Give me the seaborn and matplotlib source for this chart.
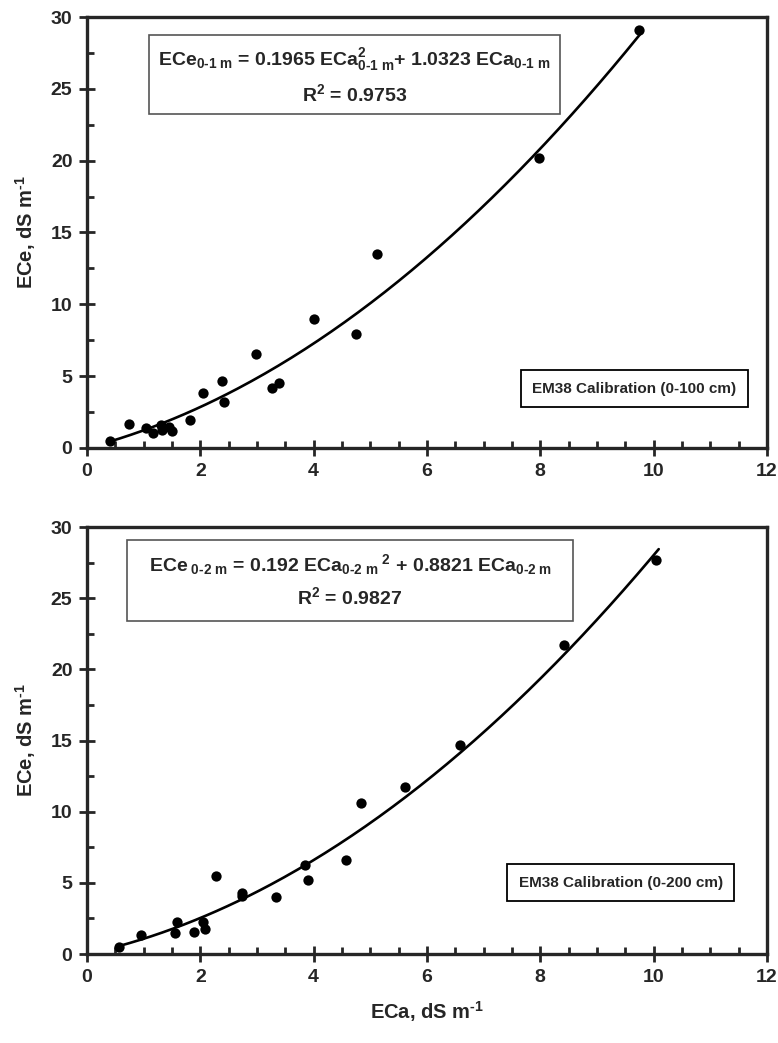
import matplotlib
matplotlib.use('Agg')
import matplotlib.pyplot as plt
from matplotlib.patches import Rectangle
from matplotlib.ticker import MultipleLocator
import seaborn as sns
import numpy as np
import pandas as pd

# EM38 0-100 cm
eca_1m = [0.40, 0.74, 1.04, 1.17, 1.30, 1.33, 1.44, 1.50, 1.81, 2.05,
          2.39, 2.42, 2.98, 3.27, 3.38, 4.00, 4.74, 5.11, 7.97, 9.74]
ece_1m = [0.50, 1.70, 1.37, 1.07, 1.60, 1.25, 1.48, 1.20, 1.95, 3.80,
          4.66, 3.22, 6.54, 4.18, 4.55, 9.00, 7.96, 13.5, 20.2, 29.1]
coef_1m = [0.1965, 1.0323]

# EM38 0-200 cm
eca_2m = [0.56, 0.95, 1.55, 1.58, 1.89, 2.05, 2.08, 2.27, 2.73, 2.74,
          3.33, 3.85, 3.90, 4.57, 4.83, 5.62, 6.59, 8.41, 10.04]
ece_2m = [0.51, 1.34, 1.45, 2.27, 1.52, 2.23, 1.76, 5.46, 4.31, 4.07,
          4.00, 6.25, 5.22, 6.58, 10.6, 11.76, 14.69, 21.7, 27.7]
coef_2m = [0.192, 0.8821]

eq_1m = r'ECe$_{\text{0-1 m}}$ = 0.1965 ECa$^{2}_{\text{0-1 m}}$+ 1.0323 ECa$_{\text{0-1 m}}$'
eq_2m = r'ECe$_{\text{ 0-2 m}}$ = 0.192 ECa$_{\text{0-2 m}}{}^{\,\,2}$ + 0.8821 ECa$_{\text{0-2 m}}$'
r2_1m = r'R$^{2}$ = 0.9753'
r2_2m = r'R$^{2}$ = 0.9827'
cal_1m = 'EM38 Calibration (0-100 cm)'
cal_2m = 'EM38 Calibration (0-200 cm)'

sns.set_style('ticks')
plt.rcParams['font.family'] = ['Liberation Sans', 'DejaVu Sans']
plt.rcParams['font.weight'] = 'bold'
plt.rcParams['mathtext.fontset'] = 'custom'
plt.rcParams['mathtext.rm'] = 'Liberation Sans:bold'
plt.rcParams['mathtext.it'] = 'Liberation Sans:bold'
plt.rcParams['mathtext.bf'] = 'Liberation Sans:bold'

fig = plt.figure(figsize=(7.78, 10.43), dpi=100)
ax1 = fig.add_axes([0.1118, 0.5705, 0.874, 0.4132])
ax2 = fig.add_axes([0.1118, 0.0853, 0.874, 0.4094])


def draw_panel(ax, eca, ece, coef, eq, r2, cal, box, lines, cal_pos):
    x = np.array(eca)
    xs = np.linspace(x.min(), x.max() + 0.05, 200)
    fit = pd.DataFrame({'x': xs, 'y': coef[0] * xs ** 2 + coef[1] * xs})
    sns.lineplot(data=fit, x='x', y='y', ax=ax, color='black', lw=1.9)
    pts = pd.DataFrame({'eca': eca, 'ece': ece})
    sns.scatterplot(data=pts, x='eca', y='ece', ax=ax, color='black',
                    s=55, edgecolor='black', linewidth=0, zorder=3)
    ax.set_xlim(0, 12)
    ax.set_ylim(0, 30)
    ax.xaxis.set_major_locator(MultipleLocator(2))
    ax.xaxis.set_minor_locator(MultipleLocator(0.5))
    ax.yaxis.set_major_locator(MultipleLocator(5))
    ax.yaxis.set_minor_locator(MultipleLocator(2.5))
    ax.tick_params(which='major', direction='inout', length=11, width=2,
                   labelsize=14, pad=5)
    ax.tick_params(which='minor', direction='in', length=5, width=2)
    for s in ax.spines.values():
        s.set_linewidth(2.4)
    for lab in ax.get_xticklabels() + ax.get_yticklabels():
        lab.set_fontweight('bold')
    ax.set_xlabel('')
    ax.set_ylabel(r'ECe, dS m$^{\text{-1}}$', fontsize=14.5, fontweight='bold',
                  labelpad=9)
    ax.add_patch(Rectangle((box[0], box[1]), box[2] - box[0], box[3] - box[1],
                           transform=ax.transAxes, fill=True, facecolor='white',
                           edgecolor='#555555', lw=1.2, zorder=4))
    ax.text((box[0] + box[2]) / 2, lines[0], eq, transform=ax.transAxes,
            ha='center', va='center', fontsize=14, fontweight='bold', zorder=5)
    ax.text((box[0] + box[2]) / 2, lines[1], r2, transform=ax.transAxes,
            ha='center', va='center', fontsize=14, fontweight='bold', zorder=5)
    ax.text(cal_pos[0], cal_pos[1], cal, transform=ax.transAxes, ha='center',
            va='center', fontsize=11, fontweight='bold', zorder=5,
            bbox=dict(boxstyle='square,pad=0.75', facecolor='white',
                      edgecolor='black', lw=1.3))


draw_panel(ax1, eca_1m, ece_1m, coef_1m, eq_1m, r2_1m, cal_1m,
           (0.091, 0.775, 0.696, 0.958), (0.902, 0.822), (0.805, 0.137))
draw_panel(ax2, eca_2m, ece_2m, coef_2m, eq_2m, r2_2m, cal_2m,
           (0.059, 0.780, 0.715, 0.970), (0.913, 0.835), (0.785, 0.167))
ax2.set_xlabel(r'ECa, dS m$^{\text{-1}}$', fontsize=14.5, fontweight='bold',
               labelpad=10)

fig.savefig('out.png', dpi=100)
